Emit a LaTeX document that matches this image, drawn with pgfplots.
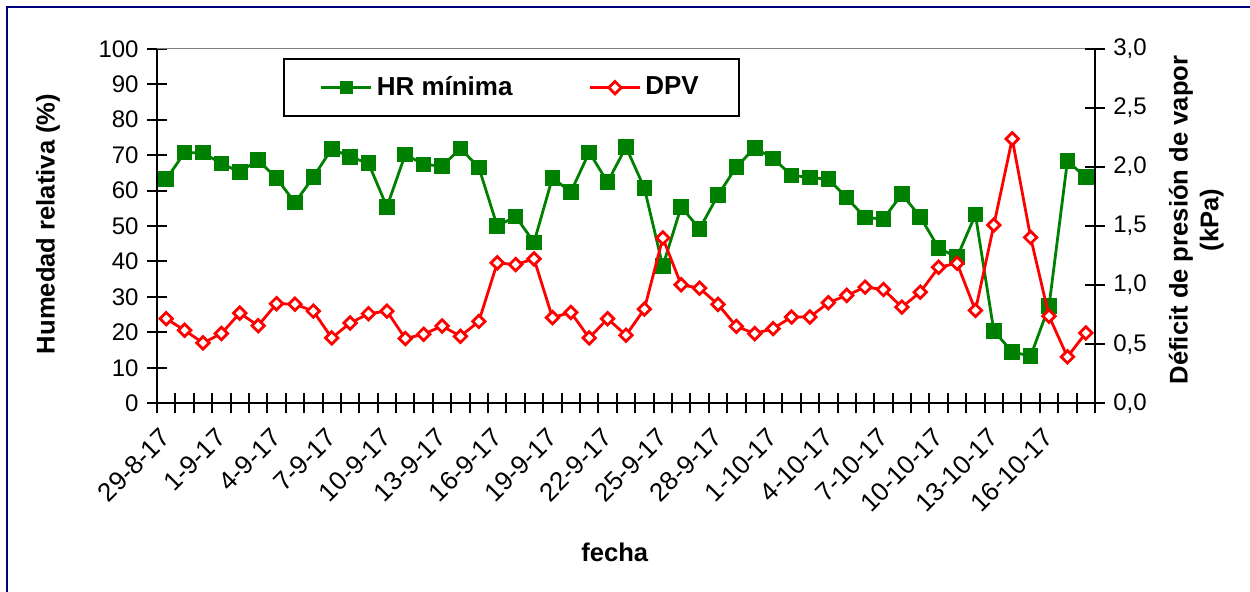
\documentclass[border=0pt]{standalone}
\usepackage{fontspec}
\setmainfont{Liberation Sans}
\usepackage{pgfplots}
\usepackage{pgfplotstable}
\pgfplotsset{compat=1.18}
\definecolor{xlgreen}{RGB}{0,128,0}
\definecolor{xlnavy}{RGB}{0,0,128}

\pgfplotstableread{
x hr
0 63.2
1 70.7
2 70.7
3 67.6
4 65.3
5 68.6
6 63.5
7 56.6
8 63.8
9 71.8
10 69.5
11 67.7
12 55.4
13 70.2
14 67.4
15 66.9
16 71.9
17 66.5
18 50.0
19 52.7
20 45.4
21 63.6
22 59.6
23 70.8
24 62.4
25 72.3
26 60.7
27 38.7
28 55.4
29 49.2
30 58.7
31 66.7
32 72.0
33 69.1
34 64.3
35 63.7
36 63.2
37 58.0
38 52.4
39 52.0
40 59.0
41 52.6
42 43.8
43 41.2
44 53.2
45 20.4
46 14.5
47 13.3
48 27.4
49 68.3
50 63.8
}\hrdata

\pgfplotstableread{
x dpv
0 0.716
1 0.618
2 0.511
3 0.590
4 0.763
5 0.657
6 0.843
7 0.839
8 0.780
9 0.553
10 0.679
11 0.758
12 0.780
13 0.548
14 0.584
15 0.654
16 0.567
17 0.693
18 1.188
19 1.174
20 1.222
21 0.725
22 0.769
23 0.553
24 0.716
25 0.576
26 0.797
27 1.399
28 1.003
29 0.974
30 0.837
31 0.651
32 0.590
33 0.632
34 0.730
35 0.730
36 0.851
37 0.913
38 0.983
39 0.963
40 0.814
41 0.940
42 1.151
43 1.185
44 0.786
45 1.508
46 2.238
47 1.404
48 0.738
49 0.393
50 0.595
}\dpvdata

\begin{document}
\fontsize{12}{14.4}\selectfont
\begin{tikzpicture}
\useasboundingbox (-78.5pt,-94.35pt) rectangle (546.5pt,201.65pt);
\draw[xlnavy, line width=1pt] (-74.75pt,-120pt) -- (-74.75pt,197.9pt) -- (570pt,197.9pt);

\pgfplotsset{
  common/.style={
    scale only axis, width=469pt, height=177.25pt,
    xmin=-0.5, xmax=50.5,
    tick align=center,
    major tick length=10pt, minor tick length=10pt,
    tick style={black, line width=1pt},
    axis line style={black, line width=1pt},
    tick label style={font=\fontsize{12}{14.4}\selectfont},
    /pgf/number format/assume math mode=true,
    label style={font=\bfseries\fontsize{12.8}{15.4}\selectfont},
  }
}

\begin{axis}[common,
  axis x line*=bottom, axis y line*=left,
  ymin=0, ymax=100, ytick={0,10,...,100},
  xtick={0,3,...,48},
  xticklabels={29-8-17,1-9-17,4-9-17,7-9-17,10-9-17,13-9-17,16-9-17,19-9-17,22-9-17,25-9-17,28-9-17,1-10-17,4-10-17,7-10-17,10-10-17,13-10-17,16-10-17},
  major x tick style={draw=none},
  minor xtick={-0.5,0.5,...,50.5},
  xticklabel style={rotate=45, anchor=east, font=\fontsize{13}{15}\selectfont, yshift=-7pt, xshift=-3pt},
  xlabel={fecha},
  xlabel style={at={(axis description cs:0.488,-0.4195)}, anchor=center},
  ylabel={Humedad relativa (\%)},
  ylabel style={at={(axis description cs:-0.1162,0.506)}, anchor=center, rotate=0},
]
\draw[gray, line width=0.5pt] (rel axis cs:0,1) -- (rel axis cs:1,1);
\addplot[xlgreen, line width=1.4pt, mark=square*, mark size=3.2pt, mark options={solid, fill=xlgreen}] table[x=x, y=hr] {\hrdata};
\end{axis}

\begin{axis}[common,
  axis y line*=right, axis x line=none,
  ymin=0, ymax=3, ytick={0,0.5,...,3},
  yticklabel style={/pgf/number format/.cd, fixed, fixed zerofill, precision=1, use comma},
  ylabel={Déficit de presión de vapor\\(kPa)},
  ylabel style={at={(axis description cs:1.108,0.517)}, anchor=center, align=center},
  legend columns=2,
  legend image code/.code={\draw[mark repeat=2,mark phase=2,#1] plot coordinates {(0pt,0pt) (12.5pt,0pt) (25pt,0pt)};},
  legend style={at={(axis description cs:0.1343,0.973)}, anchor=north west, draw=black, line width=1pt,
    inner xsep=18pt, inner ysep=6.5pt,
    font=\bfseries\fontsize{13}{15.6}\selectfont,
    /tikz/every even column/.append style={column sep=36pt}},
]
\addlegendimage{xlgreen, line width=1.4pt, mark=square*, mark size=2.5pt, mark options={solid, fill=xlgreen}}
\addlegendentry{HR mínima}
\addplot[red, line width=1.4pt, mark=square*, mark size=2.2pt, mark options={solid, fill=white, rotate=45}] table[x=x, y=dpv] {\dpvdata};
\addlegendentry{DPV}
\end{axis}
\end{tikzpicture}
\end{document}
